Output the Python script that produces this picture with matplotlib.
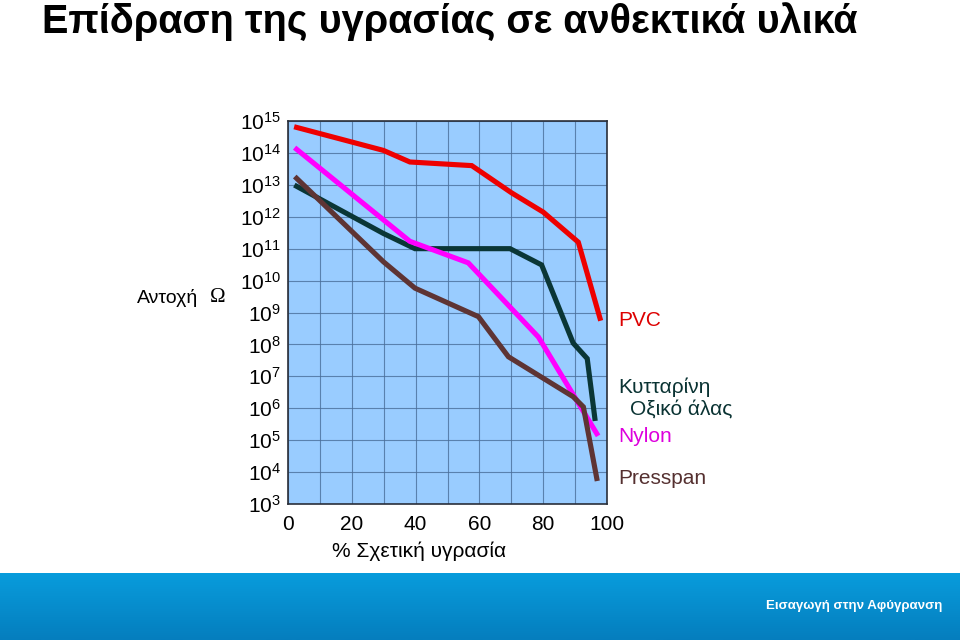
import numpy as np
import matplotlib
matplotlib.use("Agg")
import matplotlib.pyplot as plt
from matplotlib.ticker import FixedLocator, NullFormatter

plt.rcParams['font.family'] = ['Liberation Sans', 'DejaVu Sans']
plt.rcParams['mathtext.fontset'] = 'custom'
plt.rcParams['mathtext.rm'] = 'Liberation Sans'
plt.rcParams['mathtext.it'] = 'Liberation Sans'

# % relative humidity vs. resistance (Ohm)
pvc_x = [2.7, 29.9, 38.2, 57.6, 70.1, 80.0, 91.0, 97.8]
pvc_y = [6.3e14, 1.2e14, 5.2e13, 4.0e13, 5.6e12, 1.4e12, 1.6e11, 6.6e8]

acetate_x = [2.7, 29.9, 39.8, 69.6, 79.5, 89.4, 93.8, 96.2]
acetate_y = [9.0e12, 3.0e11, 1.0e11, 1.0e11, 3.1e10, 1.1e8, 3.6e7, 4.8e5]

nylon_x = [2.7, 38.2, 56.5, 78.5, 96.8]
nylon_y = [1.3e14, 1.7e11, 3.6e10, 1.7e8, 1.6e5]

presspan_x = [2.7, 29.9, 39.8, 59.7, 69.1, 89.4, 92.6, 96.8]
presspan_y = [1.6e13, 3.9e10, 5.8e9, 7.4e8, 4.1e7, 2.3e6, 1.1e6, 6.3e3]

exponents = list(range(3, 16))
x_ticks = [0, 20, 40, 60, 80, 100]

fig = plt.figure(figsize=(9.6, 6.4), dpi=100)
fig.patch.set_facecolor('white')

# title (no condensed font available, so sized to the same width)
fig.text(42/960, 1 - 22/640, 'Επίδραση της υγρασίας σε ανθεκτικά υλικά',
         fontweight='bold', fontsize=28.5, va='center', ha='left', color='black')

ax = fig.add_axes([288/960, 136/640, 319/960, 383/640])
ax.set_facecolor('#99CCFF')

ax.plot(pvc_x, pvc_y, color='#EE0000', lw=3.7, solid_joinstyle='miter', zorder=3)
ax.plot(acetate_x, acetate_y, color='#0A3636', lw=3.7, solid_joinstyle='miter', zorder=4)
ax.plot(nylon_x, nylon_y, color='#FF00FF', lw=3.7, solid_joinstyle='miter', zorder=5)
ax.plot(presspan_x, presspan_y, color='#5E3434', lw=3.7, solid_joinstyle='miter', zorder=6)

ax.set_yscale('log')
ax.set_xlim(0, 100)
ax.set_ylim(1e3, 1e15)
ax.yaxis.set_major_locator(FixedLocator([10.0**e for e in exponents]))
ax.yaxis.set_minor_locator(FixedLocator([]))
ax.set_yticklabels([r'$10^{%d}$' % e for e in exponents])
ax.xaxis.set_major_locator(FixedLocator(x_ticks))
ax.xaxis.set_minor_locator(FixedLocator(list(range(10, 100, 20))))
ax.xaxis.set_minor_formatter(NullFormatter())
ax.grid(True, which='both', color='#4A6E9A', lw=0.8, alpha=0.8)
ax.set_axisbelow(True)
ax.tick_params(axis='both', which='both', length=0, labelsize=15, colors='black')
ax.tick_params(axis='x', pad=8)
ax.tick_params(axis='y', pad=5)
for s in ax.spines.values():
    s.set_color('#2A2F3A')
    s.set_linewidth(1.2)

fig.text(419/960, 1 - 551/640, '% Σχετική υγρασία', fontsize=15, ha='center', va='center')
fig.text(137/960, 1 - 298/640, 'Αντοχή', fontsize=14, ha='left', va='center')
fig.text(210/960, 1 - 298/640, 'Ω', family='Liberation Serif', fontsize=15, ha='left', va='center')

# series labels on the right
fig.text(618/960, 1 - 320/640, 'PVC', color='#DD0000', fontsize=15, va='center')
fig.text(618/960, 1 - 387/640, 'Κυτταρίνη', color='#0A3333', fontsize=15, va='center')
fig.text(630/960, 1 - 409/640, 'Οξικό άλας', color='#0A3333', fontsize=15, va='center')
fig.text(618/960, 1 - 436/640, 'Nylon', color='#DD00DD', fontsize=15, va='center')
fig.text(618/960, 1 - 479/640, 'Presspan', color='#553030', fontsize=15, va='center')

# bottom banner
bar = fig.add_axes([0, 0, 1, 67/640])
grad = np.linspace(0, 1, 64).reshape(-1, 1)
top = np.array([0x08, 0x9C, 0xDC]) / 255
bot = np.array([0x05, 0x7E, 0xBE]) / 255
img = top[None, None, :] * (1 - grad[:, :, None]) + bot[None, None, :] * grad[:, :, None]
bar.imshow(img, aspect='auto', extent=[0, 1, 0, 1])
bar.set_axis_off()
fig.text(942/960, 1 - 606/640, 'Εισαγωγή στην Αφύγρανση', color='white',
         fontsize=9.5, fontweight='bold', ha='right', va='center')

fig.savefig('out.png', dpi=100)
